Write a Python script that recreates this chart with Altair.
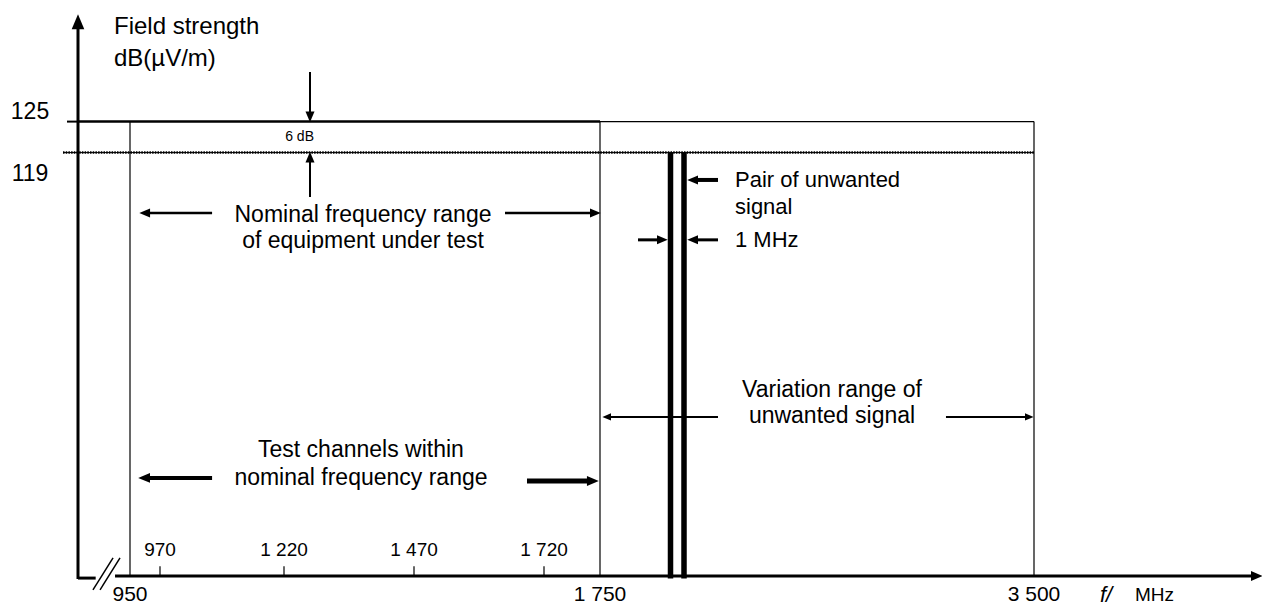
import altair as alt
import pandas as pd

# ---------------- values ----------------
edge_freqs = [950, 1750, 3500]                 # MHz, labelled under the axis
edge_labels = ["950", "1 750", "3 500"]
channel_freqs = [970, 1220, 1470, 1720]        # MHz, test channels
channel_labels = ["970", "1 220", "1 470", "1 720"]
pair_freqs = [2000, 2001]                      # MHz, pair of unwanted signals (1 MHz apart)
level_top = 125                                # dB(uV/m)
level_bottom = 119
level_labels = ["125", "119"]

axis_start_f = 900       # broken frequency axis begins here
axis_end_f = 4500        # arrow tip of frequency axis
axis_level = 37          # field strength at the frequency axis
axis_top_level = 145.6   # arrow tip of field-strength axis

# annotation arrows: tail (x1,y1) -> tip (x2,y2)
arrow_names = ["yaxis", "xaxis", "dB_down", "dB_up", "nom_l", "nom_r", "pair",
               "mhz_r", "mhz_l", "var_l", "var_r", "test_l", "test_r"]
arrow_x1 = [900, 935.6, 1270, 1270, 1075, 1645, 2146.6, 1884.8, 2146.6, 2146.6, 3123, 1075, 1687.3]
arrow_y1 = [36.4, 37, 134.6, 110.4, 107.3, 107.3, 113.7, 102.1, 102.1, 67.8, 67.8, 56.0, 55.4]
arrow_x2 = [900, 4500, 1270, 1270, 956.7, 1750, 2018.1, 1987.6, 2018.1, 1760.6, 3495.7, 956, 1748.9]
arrow_y2 = [145.6, 37, 125, 119, 107.3, 107.3, 113.7, 102.1, 102.1, 67.8, 67.8, 56.0, 55.4]
arrow_dir = ["up", "right", "down", "up", "left", "right", "left",
             "right", "left", "left", "right", "left", "right"]
arrow_width = [3, 3, 2, 2, 2.5, 2.5, 4, 3, 3, 2, 2, 4, 5]
arrow_head = [14, 11, 10, 10, 10, 10, 10, 10, 10, 8, 8, 11, 11]

# texts
center_texts = ["Nominal frequency range", "of equipment under test",
                "Variation range of", "unwanted signal",
                "Test channels within", "nominal frequency range"]
center_x = [1371.9, 1371.9, 2634.8, 2634.8, 1368, 1368]
center_y = [106.9, 101.9, 73.0, 68.0, 61.4, 56.0]

left_texts = ["Field strength", "dB(\u00b5V/m)"]
left_x = [934.6, 934.6]
left_y = [143.3, 137.1]
pair_texts = ["Pair of unwanted", "signal", "1 MHz"]
pair_x = [2219.4, 2219.4, 2219.4]
pair_y = [113.7, 108.5, 102.1]

level_label_x = 831.4
level_label_y = [126.8, 114.9]
edge_label_y = 33.3
channel_label_y = 42.0
channel_tick_top = 38.9
gap_label = "6 dB"
gap_label_x, gap_label_y = 1250, 122.0
unit_texts = ["f/", "MHz"]
unit_x = [3789.5, 3943]

# ---------------- scales ----------------
X_BREAKS = [800, 900, 950, 970, 1220, 1470, 1720, 1750, 2000, 2001, 3500, 4500]
X_PIXELS = [0, 70, 122, 152, 276, 406, 536, 592, 662.5, 676, 1026, 1254]
xs = alt.Scale(domain=X_BREAKS, range=X_PIXELS, zero=False, nice=False)
ys = alt.Scale(domain=[31, 147], zero=False, nice=False)
FONT = "Liberation Sans"

# ---------------- tables ----------------
seg = []
# broken start of frequency axis
seg.append(dict(x=axis_start_f, x2=917, y=36.6, y2=36.6, w=3))
seg.append(dict(x=914.4, x2=933.7, y=34.3, y2=40.5, w=1.5))
seg.append(dict(x=921.2, x2=940.4, y=34.3, y2=40.5, w=1.5))
# box outline
for f in edge_freqs:
    seg.append(dict(x=f, x2=f, y=axis_level, y2=level_top, w=1.2))
seg.append(dict(x=1750, x2=3500, y=level_top, y2=level_top, w=1.2))
seg.append(dict(x=884.3, x2=axis_start_f, y=level_top, y2=level_top, w=2))
seg.append(dict(x=axis_start_f, x2=1750, y=level_top, y2=level_top, w=2.5))
# unwanted pair
for f in pair_freqs:
    seg.append(dict(x=f, x2=f, y=36.5, y2=level_bottom, w=5.5))
# test channel ticks
for f in channel_freqs:
    seg.append(dict(x=f, x2=f, y=axis_level, y2=channel_tick_top, w=1.2))
seg_df = pd.DataFrame(seg)

dot_low = pd.DataFrame([dict(x=878.6, x2=3500, y=level_bottom)])

arrows = pd.DataFrame(dict(name=arrow_names, x=arrow_x1, y=arrow_y1, x2=arrow_x2, y2=arrow_y2,
                           dir=arrow_dir, w=arrow_width, hl=arrow_head))
HEAD = {
    "right": "M0.15,0L-2,-0.9L-2,0.9Z",
    "left": "M-0.15,0L2,-0.9L2,0.9Z",
    "up": "M0,-0.15L-0.9,2L0.9,2Z",
    "down": "M0,0.15L-0.9,-2L0.9,-2Z",
}
arrows["shape"] = arrows["dir"].map(HEAD)
arrows["size"] = arrows["hl"] ** 2

ctext = pd.DataFrame(dict(t=center_texts, x=center_x, y=center_y))
lvtext = pd.DataFrame(dict(t=level_labels, x=[level_label_x] * 2, y=level_label_y))
edtext = pd.DataFrame(dict(t=edge_labels, x=edge_freqs, y=[edge_label_y] * 3))
ltext = pd.DataFrame(dict(t=left_texts, x=left_x, y=left_y))
ptext = pd.DataFrame(dict(t=pair_texts, x=pair_x, y=pair_y))
chtext = pd.DataFrame(dict(t=channel_labels, x=channel_freqs, y=[channel_label_y] * 4))
gtext = pd.DataFrame(dict(t=[gap_label], x=[gap_label_x], y=[gap_label_y]))
utext = pd.DataFrame(dict(t=unit_texts, x=unit_x, y=[edge_label_y] * 2))

X = lambda f="x": alt.X(f"{f}:Q", scale=xs, axis=None)
Y = lambda f="y": alt.Y(f"{f}:Q", scale=ys, axis=None)

segs = alt.Chart(seg_df).mark_rule(color="black", strokeCap="butt").encode(
    x=X(), x2="x2:Q", y=Y(), y2="y2:Q", strokeWidth=alt.StrokeWidth("w:Q", scale=None))

low_solid = alt.Chart(dot_low).mark_rule(color="black", strokeWidth=1).encode(x=X(), x2="x2:Q", y=Y())
low_dots = alt.Chart(dot_low).mark_rule(color="black", strokeWidth=2.5, strokeDash=[1.5, 1.2]).encode(
    x=X(), x2="x2:Q", y=Y())

def shafts(direction, **off):
    return alt.Chart(arrows).transform_filter(alt.datum.dir == direction).mark_rule(
        color="black", strokeCap="butt", **off).encode(
        x=X(), x2="x2:Q", y=Y(), y2="y2:Q", strokeWidth=alt.StrokeWidth("w:Q", scale=None))

sh_r = shafts("right", x2Offset=-7)
sh_l = shafts("left", x2Offset=7)
sh_u = shafts("up", y2Offset=7)
sh_d = shafts("down", y2Offset=-7)

heads = alt.Chart(arrows).mark_point(filled=True, color="black", opacity=1, strokeWidth=0).encode(
    x=X("x2"), y=Y("y2"),
    shape=alt.Shape("shape:N", scale=None),
    size=alt.Size("size:Q", scale=None))

def txt(df, size, align, style="normal"):
    return alt.Chart(df).mark_text(font=FONT, fontSize=size, align=align, baseline="middle",
                                   fontStyle=style, color="black").encode(x=X(), y=Y(), text="t:N")

t_center = txt(ctext, 23, "center")
t_lv = txt(lvtext, 23, "center")
t_ed = txt(edtext, 21, "center")
t_left = txt(ltext, 24, "left")
t_pair = txt(ptext, 22, "left")
t_ch = txt(chtext, 19, "center")
t_gap = txt(gtext, 14, "center")
t_unit_f = txt(utext.iloc[[0]], 22, "left", "italic")
t_unit_m = txt(utext.iloc[[1]], 19, "left")

chart = alt.layer(segs, low_solid, low_dots, sh_r, sh_l, sh_u, sh_d, heads,
                  t_center, t_lv, t_ed, t_left, t_pair, t_ch, t_gap, t_unit_f, t_unit_m).properties(
    width=1254, height=599, padding=0,
    autosize=alt.AutoSizeParams(type="none"),
).configure_view(stroke="transparent", strokeWidth=0)

chart.save("out.html", embed_options={"renderer": "svg", "actions": False})
